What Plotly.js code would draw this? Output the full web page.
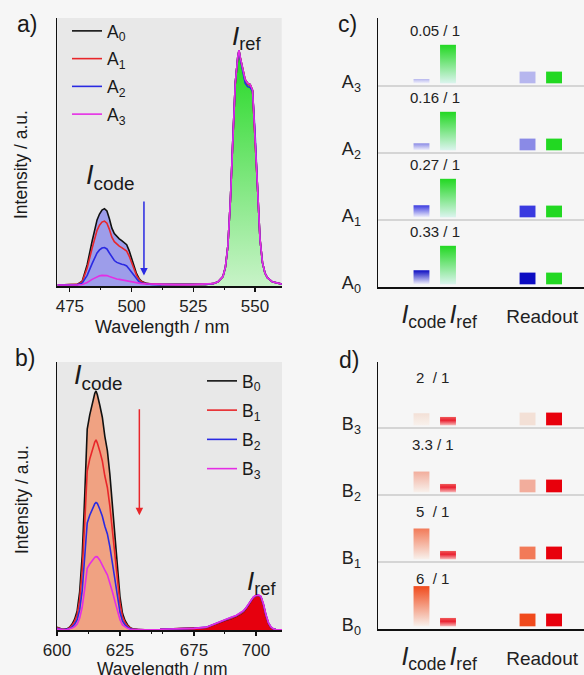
<!DOCTYPE html>
<html><head><meta charset="utf-8">
<script src="https://cdn.plot.ly/plotly-3.0.1.min.js"></script>
<style>html,body{margin:0;padding:0;background:#f6f6f6}#chart{width:584px;height:675px}</style>
</head><body><div id="chart"></div>
<script>
// ---------------- DATA ----------------
// panel a: emission spectra (intensity normalised to I_ref peak)
const wlA = [470,476,478,480,482,484,486,487,488,489,490,491,492,493,494,495,496,497,498,499,500,501,502,503,504,506,508,512,518,524,530,533,535,537,538,539,540,541,542,543,543.5,544,545,546,547,548,549,550,551,552,553,554,555,557,561];
const A0 = [.004,.005,.007,.02,.09,.19,.28,.305,.322,.328,.318,.285,.245,.222,.21,.2,.192,.185,.175,.15,.12,.085,.052,.032,.02,.011,.008,.007,.006,.006,.007,.01,.018,.04,.08,.17,.36,.62,.86,.97,1.0,.97,.915,.875,.86,.855,.83,.65,.42,.2,.1,.055,.035,.018,.008];
const A1 = [.004,.005,.007,.018,.076,.16,.236,.258,.271,.275,.266,.24,.207,.188,.177,.169,.163,.157,.148,.127,.1,.072,.045,.028,.018,.01,.008,.007,.006,.006,.007,.01,.018,.04,.08,.17,.36,.62,.86,.97,1.0,.968,.912,.872,.857,.852,.828,.65,.42,.2,.1,.055,.035,.018,.008];
const A2 = [.004,.004,.006,.012,.045,.095,.14,.153,.161,.163,.157,.14,.121,.108,.1,.095,.092,.09,.085,.072,.058,.042,.028,.018,.013,.009,.007,.006,.006,.006,.007,.01,.018,.04,.08,.17,.36,.62,.86,.97,1.0,.965,.905,.86,.845,.842,.825,.65,.42,.2,.1,.055,.035,.018,.008];
const A3 = [.004,.003,.004,.006,.015,.028,.039,.043,.045,.045,.044,.04,.036,.033,.03,.028,.026,.025,.023,.02,.017,.014,.012,.011,.01,.009,.008,.007,.006,.006,.007,.01,.018,.04,.08,.17,.36,.62,.86,.97,1.0,.97,.915,.875,.86,.855,.83,.65,.42,.2,.1,.055,.035,.018,.008];
const namesA = ['A<sub>0</sub>','A<sub>1</sub>','A<sub>2</sub>','A<sub>3</sub>'];

// panel b: emission spectra, broken wavelength axis
const wlBcode = [600,601,602,603,604,605,606,607,608,609,610,611,612,613,614,615,615.5,616,617,618,619,620,621,622,623,624,625,626,627,628,629,630,632,635,641];
const B0code = [1.2,0.7,0.3,0.3,0.5,1.2,2.5,4.5,8,16,31,56,84,90,95,99,100,98.5,94,89,81,75,65,52,39,25,14,7,4,2.2,1,0.5,0.2,0.1,0.1];
const B1code = [1.0,0.6,0.3,0.3,0.4,1,2,3.6,6.4,12.7,25,44.5,66.5,71.5,75.5,78.6,79.5,78.3,74.8,70.7,64.4,59.6,51.7,41.3,31,19.9,11.1,5.6,3.2,1.7,0.8,0.4,0.2,0.1,0.1];
const B2code = [0.7,0.4,0.2,0.2,0.3,0.6,1.3,2.4,4.3,8.5,16.5,29.8,44.8,48,50.6,52.8,53.3,53,50.5,47.6,43.4,40.2,34.8,27.9,20.8,13.4,7.5,3.8,2.1,1.2,0.5,0.3,0.1,0.1,0.1];
const B3code = [0.4,0.2,0.1,0.1,0.2,0.4,0.8,1.4,2.5,4.9,9.5,17.2,25.8,27.6,29.2,30.4,30.7,30.6,29.2,27.4,25,23.1,20,16,12,7.7,4.3,2.1,1.2,0.7,0.3,0.2,0.1,0.1,0.1];
const wlBref = [661.3,665,670,675,680,683,686,688,690,692,694,695,696,697,698,699,700,701,702,703,704,705,706,707,708,710.5];
const B0ref = [0.3,0.4,0.5,0.6,1.0,2.2,3.5,4.2,4.7,5.6,6.8,7.6,8.8,10.4,12.2,13.6,14.2,14.4,13.8,10.5,6,2.8,1.1,0.4,0.2,0.1];
const B1ref = [0.3,0.4,0.5,0.6,1.0,2.2,3.6,4.3,4.8,5.7,6.9,7.7,8.9,10.5,12.3,13.5,14.1,14.3,13.7,10.4,6,2.8,1.1,0.4,0.2,0.1];
const B2ref = [0.3,0.4,0.5,0.7,1.2,2.5,3.8,4.6,5.2,6.0,7.2,8.0,9.2,10.8,12.5,13.8,14.4,14.6,14.0,10.8,6.4,3.1,1.3,0.5,0.2,0.1];
const B3ref = [0.3,0.4,0.5,0.7,1.2,2.5,3.9,4.7,5.3,6.1,7.3,8.1,9.3,10.9,12.6,13.9,14.5,14.7,14.1,11.0,6.6,3.2,1.4,0.5,0.2,0.1];
const namesB = ['B<sub>0</sub>','B<sub>1</sub>','B<sub>2</sub>','B<sub>3</sub>'];

// panels c / d: schematic bars (heights in row units, rows 0..3)
const columnsX = [1, 2, 5, 6];           // I_code, I_ref, readout(code), readout(ref)
const columnLabels = ['<i>I</i><sub>code</sub>','<i>I</i><sub>ref</sub>','<span style="font-size:19px">Readout</span>'];
const ratioA = ['0.33 / 1','0.27 / 1','0.16 / 1','0.05 / 1'];
const codeBarA = [0.21, 0.18, 0.105, 0.065];
const refBarA  = [0.575, 0.575, 0.575, 0.575];
const readBarA = [0.175, 0.175, 0.175, 0.175];
const ratioB = ['6\u00a0 / 1','5\u00a0 / 1','3.3 / 1','2\u00a0 / 1'];
const codeBarB = [0.6, 0.46, 0.31, 0.18];
const refBarB  = [0.125, 0.125, 0.125, 0.125];
const readBarB = [0.19, 0.19, 0.19, 0.19];

// ---------------- STYLE ----------------
const W = 584, H = 675;
const px = x => x / W, py = y => 1 - y / H;
const FONT = 'Liberation Sans, Arial, sans-serif';
const lineColors = ['#111111', '#e8262a', '#2a2ae2', '#e42ee4'];
const readColA = ['#0c0cc2', '#3a3ae0', '#8a8ae6', '#b6b6ee'];
const readColB = ['#f04a1c', '#f27a58', '#f2ad9c', '#f3e0d6'];
const greenTop = '#22d822', redTop = '#e8000c';
const barW = 0.6, base = 0.04;

const traces = [];
const idx = (arr, f) => arr.map((v, i) => i).filter(i => f(arr[i]));

// ---- panel a fills ----
const ia = idx(wlA, w => w <= 512), ib = idx(wlA, w => w >= 524);
traces.push({x: ia.map(i => wlA[i]), y: ia.map(i => A0[i]), xaxis: 'x', yaxis: 'y', mode: 'lines', line: {width: 0},
  fill: 'tozeroy', fillcolor: 'rgba(112,112,236,0.62)', showlegend: false, hoverinfo: 'skip'});
traces.push({x: ib.map(i => wlA[i]), y: ib.map(i => A3[i]), xaxis: 'x', yaxis: 'y', mode: 'lines', line: {width: 0},
  fill: 'tozeroy', fillgradient: {type: 'vertical', colorscale: [[0, '#c8f3c8'], [1, greenTop]]}, showlegend: false, hoverinfo: 'skip'});
[A0, A1, A2, A3].forEach((s, k) => traces.push({x: wlA, y: s, xaxis: 'x', yaxis: 'y', mode: 'lines', name: namesA[k],
  legend: 'legend', legendgroup: 'a' + k, line: {color: lineColors[k], width: 1.6}, hoverinfo: 'skip'}));

// ---- panel b ----
traces.push({x: wlBcode, y: B0code, xaxis: 'x2', yaxis: 'y2', mode: 'lines', line: {width: 0}, fill: 'tozeroy',
  fillcolor: '#f0a282', showlegend: false, hoverinfo: 'skip'});
traces.push({x: wlBref, y: B0ref, xaxis: 'x3', yaxis: 'y2', mode: 'lines', line: {width: 0}, fill: 'tozeroy',
  fillcolor: '#e6000e', showlegend: false, hoverinfo: 'skip'});
const bCode = [B0code, B1code, B2code, B3code], bRef = [B0ref, B1ref, B2ref, B3ref];
bCode.forEach((s, k) => traces.push({x: wlBcode, y: s, xaxis: 'x2', yaxis: 'y2', mode: 'lines', name: namesB[k],
  legend: 'legend2', legendgroup: 'b' + k, line: {color: lineColors[k], width: 1.6}, hoverinfo: 'skip'}));
bRef.forEach((s, k) => traces.push({x: wlBref, y: s, xaxis: 'x3', yaxis: 'y2', mode: 'lines', showlegend: false,
  line: {color: lineColors[k], width: 1.6}, hoverinfo: 'skip'}));

// ---- panels c, d: bars as filled rectangles ----
function bar(xa, ya, xc, y0, h, fillOpts) {
  const x0 = xc - barW / 2, x1 = xc + barW / 2;
  return Object.assign({x: [x0, x1, x1, x0, x0], y: [y0, y0, y0 + h, y0 + h, y0], xaxis: xa, yaxis: ya,
    mode: 'lines', line: {width: 0}, fill: 'toself', showlegend: false, hoverinfo: 'skip'}, fillOpts);
}
const grad = (bot, top) => ({fillgradient: {type: 'vertical', colorscale: [[0, bot], [1, top]]}});
for (let r = 0; r < 4; r++) {
  traces.push(bar('x4', 'y4', columnsX[0], r + base, codeBarA[r], grad('#f2f2fb', readColA[r])));
  traces.push(bar('x4', 'y4', columnsX[1], r + base, refBarA[r], grad('#dbf4ee', greenTop)));
  traces.push(bar('x4', 'y4', columnsX[2], r + base, readBarA[r], {fillcolor: readColA[r]}));
  traces.push(bar('x4', 'y4', columnsX[3], r + base, readBarA[r], {fillcolor: greenTop}));
  traces.push(bar('x5', 'y5', columnsX[0], r + base, codeBarB[r], grad('#f8f1ec', readColB[r])));
  traces.push(bar('x5', 'y5', columnsX[1], r + base, refBarB[r], {fillgradient: {type: 'vertical', colorscale: [[0, '#f7b8b8'], [0.6, '#ea2030'], [1, '#ef5a5a']]}}));
  traces.push(bar('x5', 'y5', columnsX[2], r + base, readBarB[r], {fillcolor: readColB[r]}));
  traces.push(bar('x5', 'y5', columnsX[3], r + base, readBarB[r], {fillcolor: redTop}));
}

// ---------------- LAYOUT ----------------
const tickfont = {family: FONT, size: 17, color: '#222'};
const baseAx = {showline: true, linecolor: '#111', linewidth: 1.5, showgrid: false, zeroline: false, fixedrange: true};
const xSpec = (dom, rng, anchor, tv, mv) => Object.assign({}, baseAx, {domain: dom, range: rng, anchor: anchor,
  ticks: 'outside', ticklen: 4, tickwidth: 1.2, tickcolor: '#111', tickvals: tv, tickfont: tickfont,
  minor: {tickvals: mv, ticks: 'outside', ticklen: 2.5, tickcolor: '#111', tickwidth: 1}});
const ySpec = (dom, rng, anchor) => Object.assign({}, baseAx, {domain: dom, range: rng, anchor: anchor, showticklabels: false, ticks: ''});
const catX = (dom, anchor) => Object.assign({}, baseAx, {domain: dom, range: [-0.64, 7.13], anchor: anchor, ticks: '',
  tickvals: [1.09, 2.57, 5.55], ticktext: columnLabels, tickfont: {family: FONT, size: 25, color: '#222'}, ticklabelstandoff: 4});
const rowY = (dom, rng, anchor, names) => Object.assign({}, baseAx, {domain: dom, range: rng, anchor: anchor, ticks: '',
  tickvals: names.map((n, i) => i + 0.06), ticktext: names, tickfont: {family: FONT, size: 18, color: '#222'}, ticklabelstandoff: 12});

const shapes = [
  {type: 'rect', xref: 'x domain', yref: 'y domain', x0: 0, x1: 1, y0: 0, y1: 1, fillcolor: '#e8e8e8', line: {width: 0}, layer: 'below'},
  {type: 'rect', xref: 'x2 domain', yref: 'y2 domain', x0: 0, x1: 1, y0: 0, y1: 1, fillcolor: '#e8e8e8', line: {width: 0}, layer: 'below'},
  {type: 'rect', xref: 'x3 domain', yref: 'y2 domain', x0: 0, x1: 1, y0: 0, y1: 1, fillcolor: '#e8e8e8', line: {width: 0}, layer: 'below'}
];
for (let r = 1; r < 4; r++) {
  shapes.push({type: 'line', xref: 'x4 domain', yref: 'y4', x0: 0, x1: 1, y0: r, y1: r, line: {color: '#b4b4b4', width: 1}});
  shapes.push({type: 'line', xref: 'x5 domain', yref: 'y5', x0: 0, x1: 1, y0: r, y1: r, line: {color: '#b4b4b4', width: 1}});
}

const txt = (t, x, y, size, extra) => Object.assign({text: t, xref: 'paper', yref: 'paper', x: px(x), y: py(y),
  showarrow: false, font: {family: FONT, size: size, color: '#1a1a1a'}, xanchor: 'center', yanchor: 'middle'}, extra || {});
const annotations = [
  txt('a)', 15, 24, 23, {xanchor: 'left'}), txt('b)', 13, 358, 23, {xanchor: 'left'}),
  txt('c)', 336, 24, 23, {xanchor: 'left'}), txt('d)', 337, 360, 23, {xanchor: 'left'}),
  txt('Intensity / a.u.', 21, 165, 17.5, {textangle: -90}), txt('Intensity / a.u.', 22, 500, 17.5, {textangle: -90}),
  txt('Wavelength / nm', 162, 327, 18), txt('Wavelength / nm', 162, 669, 17.5),
  txt('<i>I</i><sub>code</sub>', 84, 177, 27, {xanchor: 'left'}), txt('<i>I</i><sub>ref</sub>', 230, 38, 26, {xanchor: 'left'}),
  txt('<i>I</i><sub>code</sub>', 72, 377, 27, {xanchor: 'left'}), txt('<i>I</i><sub>ref</sub>', 245, 582, 26, {xanchor: 'left'}),
  {xref: 'x', yref: 'y', axref: 'x', ayref: 'y', x: 505, y: 0.045, ax: 505, ay: 0.365, text: '', showarrow: true,
   arrowcolor: '#2a2ae2', arrowwidth: 1.5, arrowhead: 2, arrowsize: 1},
  {xref: 'x2', yref: 'y2', axref: 'x2', ayref: 'y2', x: 632.7, y: 48, ax: 632.7, ay: 93, text: '', showarrow: true,
   arrowcolor: '#e8262a', arrowwidth: 1.5, arrowhead: 2, arrowsize: 1}
];
ratioA.forEach((t, r) => annotations.push({text: t, xref: 'x4', yref: 'y4', x: 1.51, y: r + 0.83, showarrow: false,
  font: {family: FONT, size: 15, color: '#222'}}));
ratioB.forEach((t, r) => annotations.push({text: t, xref: 'x5', yref: 'y5', x: 1.42, y: r + 0.75, showarrow: false,
  font: {family: FONT, size: 15, color: '#222'}}));

const legendBase = {xanchor: 'left', yanchor: 'top', bgcolor: 'rgba(0,0,0,0)', borderwidth: 0,
  font: {family: FONT, size: 17.5, color: '#1a1a1a'}, itemwidth: 30};

const layout = {
  width: W, height: H, autosize: false, margin: {l: 0, r: 0, t: 0, b: 0},
  paper_bgcolor: '#f6f6f6', plot_bgcolor: 'rgba(0,0,0,0)', font: {family: FONT, color: '#222'},
  xaxis: xSpec([px(57.3), px(281.7)], [469.9, 560.8], 'y', [475, 500, 525, 550], [487.5, 512.5, 537.5]),
  yaxis: ySpec([py(286), py(18)], [0, 1.136], 'x'),
  xaxis2: xSpec([px(57), px(160)], [600, 640.9], 'y2', [600, 625], [612.5, 637.5]),
  xaxis3: xSpec([px(160), px(282)], [661.3, 710.5], 'y2', [675, 700], [662.5, 687.5]),
  yaxis2: ySpec([py(630), py(362)], [0, 112.1], 'x2'),
  xaxis4: catX([px(378), 1], 'y4'),
  yaxis4: rowY([py(287), py(18)], [0, 4.015], 'x4', namesA),
  xaxis5: catX([px(378), 1], 'y5'),
  yaxis5: rowY([py(629), py(362)], [0, 3.985], 'x5', namesB),
  legend: Object.assign({}, legendBase, {x: px(67), y: py(13), tracegroupgap: 2}),
  legend2: Object.assign({}, legendBase, {x: px(202), y: py(363), tracegroupgap: 3.5}),
  shapes: shapes, annotations: annotations, showlegend: true
};

Plotly.newPlot('chart', traces, layout, {staticPlot: true, displayModeBar: false});
</script>
</body></html>
